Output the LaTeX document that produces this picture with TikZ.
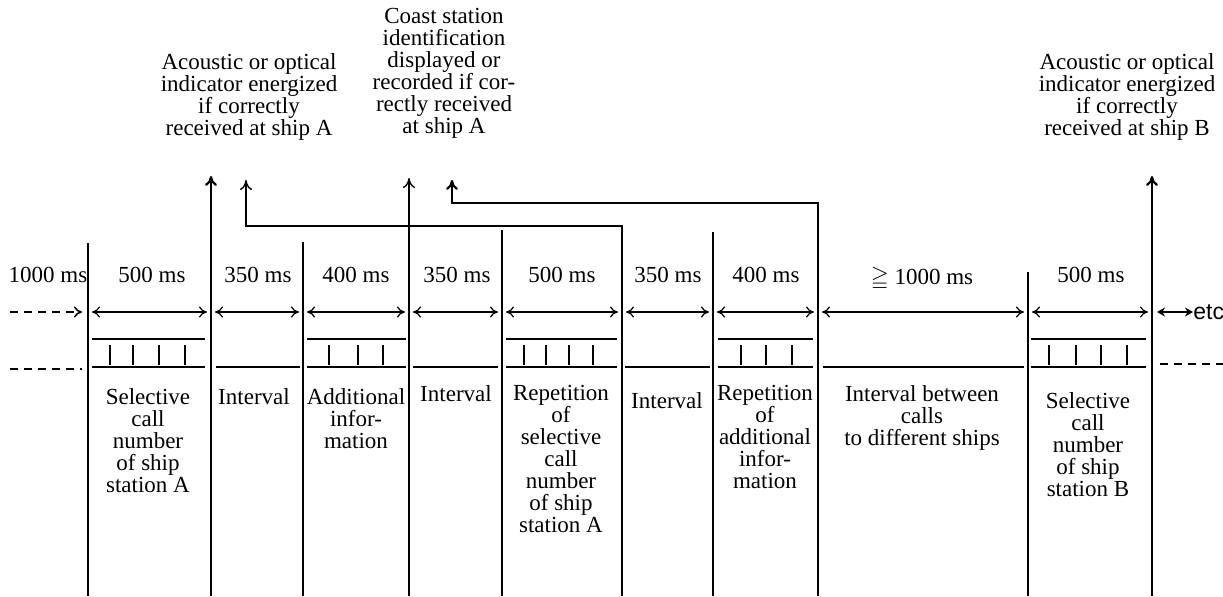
\documentclass[tikz,border=0pt]{standalone}
\usepackage{amssymb}
\usepackage{fontspec}
\setmainfont{Liberation Serif}
\newfontfamily\etcfont{Liberation Sans}
\usetikzlibrary{arrows.meta}

\begin{document}
\begin{tikzpicture}[x=0.5pt, y=-0.5pt,
  every node/.style={font=\fontsize{11.5}{11}\selectfont, inner sep=0pt},
  lbl/.style={align=center, anchor=north},
  dur/.style={anchor=base},
  bound/.style={line width=0.7pt},
  heavy/.style={line width=1.1pt},
  up/.style={-{To[length=5pt,width=6pt]}},
  span/.style={{To[length=4pt,width=5.5pt]}-{To[length=4pt,width=5.5pt]}, line width=0.6pt, shorten <=2pt, shorten >=2pt},
  bar/.style={line width=0.75pt}]
  \useasboundingbox (0,0) rectangle (1223,596);

  % Slot boundaries
  \foreach \n/\x/\t in {b0/88/243, b2/303/242, b4/502/230, b6/713/232, b8/1028/272} {
    \draw[bound] (\x,596) -- (\x,\t);
    \coordinate (\n) at (\x,312);
  }
  \coordinate (b1) at (211,312);
  \coordinate (b3) at (409,312);
  \coordinate (b5) at (622,312);
  \coordinate (b7) at (818,312);
  \coordinate (b9) at (1152,312);

  % Indicator arrows
  \draw[heavy, up] (211,596) -- (211,176);
  \draw[bound, up] (409,596) -- (409,178);
  \draw[bound, up] (622,596) -- (622,226) -- (246,226) -- (246,180);
  \draw[heavy, up] (818,596) -- (818,203) -- (452,203) -- (452,180);
  \draw[heavy, up] (1152,596) -- (1152,176);

  % Top texts
  \node[lbl] (indA) at (249,53) {Acoustic or optical\\indicator energized\\if correctly\\received at ship A};
  \node[lbl] (coast) at (444,8) {Coast station\\identification\\displayed or\\recorded if cor-\\rectly received\\at ship A};
  \node[lbl] (indB) at (1127,53) {Acoustic or optical\\indicator energized\\if correctly\\received at ship B};

  % Durations
  \node[dur] (d0) at (48,282) {1000 ms};
  \node[dur] (d1) at (152,282) {500 ms};
  \node[dur] (d2) at (258,282) {350 ms};
  \node[dur] (d3) at (356,282) {400 ms};
  \node[dur] (d4) at (457,282) {350 ms};
  \node[dur] (d5) at (562,282) {500 ms};
  \node[dur] (d6) at (668,282) {350 ms};
  \node[dur] (d7) at (766,282) {400 ms};
  \node[dur] (d8) at (922,284) {$\geqq$ 1000 ms};
  \node[dur] (d9) at (1091,282) {500 ms};

  \coordinate (w) at (10,312);
  \draw[dash pattern=on 4pt off 3pt, -{To[length=4pt,width=5.5pt]}, line width=0.75pt, shorten >=3pt] (w) -- (b0);
  \foreach \a/\b in {b0/b1, b1/b2, b2/b3, b3/b4, b4/b5, b5/b6, b6/b7, b7/b8, b8/b9}
    \draw[span] (\a) -- (\b);
  \node[anchor=west, font=\etcfont\fontsize{11.5}{11}\selectfont] (etc) at (1193,312) {etc};
  \draw[{Stealth[length=4pt,width=4.5pt]}-{Stealth[length=4pt,width=4.5pt]}, line width=0.6pt, shorten <=2.5pt] (b9) -- (etc.west);

  % Signal bars
  \foreach \a/\b in {92/205, 307/406, 506/617, 718/813, 1031/1146} {
    \draw[bar] (\a,339) -- (\b,339);
    \draw[bar] (\a,367) -- (\b,367);
  }
  \foreach \x in {110,133,159,185,329,358,383,524,546,569,593,741,766,792,1049,1076,1101,1127}
    \draw[bar] (\x,345) -- (\x,365);
  \foreach \a/\b in {216/300, 413/498, 625/710, 823/1024}
    \draw[bar] (\a,367) -- (\b,367);
  \draw[bar, dash pattern=on 4pt off 3pt] (10,369) -- (82,369);
  \draw[bar, dash pattern=on 4pt off 3pt] (1160,364) -- (1223,364);

  % Slot contents
  \node[lbl] (selA) at (148,388) {Selective\\call\\number\\of ship\\station A};
  \node[lbl] (int1) at (254,388) {Interval};
  \node[lbl] (add) at (356,388) {Additional\\infor-\\mation};
  \node[lbl] (int2) at (456,385) {Interval};
  \node[lbl] (repsel) at (561,385) {Repetition\\of\\selective\\call\\number\\of ship\\station A};
  \node[lbl] (int3) at (667,392) {Interval};
  \node[lbl] (repadd) at (765,385) {Repetition\\of\\additional\\infor-\\mation};
  \node[lbl] (intcall) at (922,385) {Interval between\\calls\\to different ships};
  \node[lbl] (selB) at (1088,392) {Selective\\call\\number\\of ship\\station B};
\end{tikzpicture}
\end{document}
